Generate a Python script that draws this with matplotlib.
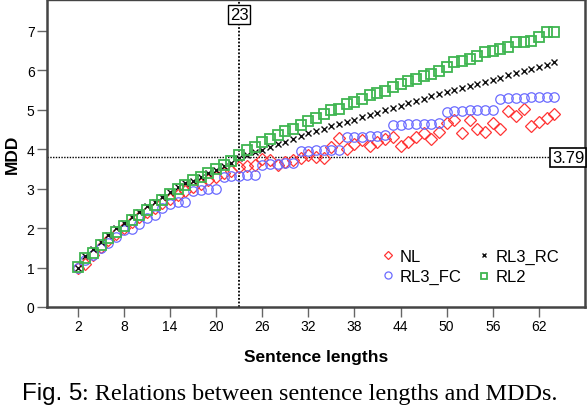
import matplotlib
matplotlib.use('Agg')
import matplotlib.pyplot as plt

# sentence lengths on the x axis
lengths = list(range(2, 65))

# MDD values
nl = [1.0, 1.1, 1.33, 1.52, 1.7, 1.86, 2.0, 2.15, 2.27, 2.4, 2.5, 2.63, 2.74, 2.85, 2.93,
      3.05, 3.12, 3.22, 3.3, 3.4, 3.45, 3.55, 3.58, 3.6, 3.76, 3.72, 3.6, 3.68, 3.72, 3.78,
      3.84, 3.8, 3.78, 4.05, 4.28, 4.0, 4.14, 4.22, 4.09, 4.18, 4.25, 4.3, 4.08, 4.18, 4.3,
      4.4, 4.26, 4.43, 4.66, 4.73, 4.41, 4.73, 4.52, 4.43, 4.66, 4.52, 4.96, 4.83, 5.02,
      4.58, 4.7, 4.79, 4.9]
rl3_fc = [1.0, 1.2, 1.33, 1.5, 1.62, 1.78, 1.95, 1.97, 2.1, 2.25, 2.33, 2.5, 2.62, 2.65,
          2.67, 2.95, 2.97, 2.98, 3.0, 3.3, 3.32, 3.33, 3.34, 3.35, 3.6, 3.62, 3.63, 3.64,
          3.66, 3.95, 3.96, 3.97, 3.97, 3.98, 3.99, 4.3, 4.31, 4.32, 4.33, 4.34, 4.35, 4.61,
          4.62, 4.63, 4.63, 4.64, 4.65, 4.66, 4.95, 4.96, 4.97, 4.98, 4.98, 4.99, 5.0, 5.28,
          5.29, 5.3, 5.3, 5.31, 5.31, 5.32, 5.33]
rl3_rc = [1.0, 1.3, 1.47, 1.65, 1.82, 1.99, 2.14, 2.28, 2.41, 2.55, 2.66, 2.78, 2.92, 3.03,
          3.14, 3.2, 3.3, 3.39, 3.48, 3.57, 3.66, 3.78, 3.86, 3.92, 3.98, 4.05, 4.12, 4.19,
          4.26, 4.33, 4.4, 4.46, 4.52, 4.58, 4.64, 4.7, 4.75, 4.81, 4.87, 4.92, 4.98, 5.04,
          5.1, 5.16, 5.22, 5.28, 5.34, 5.4, 5.45, 5.5, 5.55, 5.6, 5.66, 5.71, 5.76, 5.81,
          5.87, 5.92, 5.97, 6.02, 6.07, 6.14, 6.21]
rl2 = [1.02, 1.23, 1.38, 1.57, 1.74, 1.91, 2.06, 2.2, 2.33, 2.47, 2.58, 2.7, 2.86, 2.98,
       3.1, 3.21, 3.3, 3.4, 3.5, 3.61, 3.71, 3.86, 3.97, 4.05, 4.18, 4.25, 4.35, 4.45, 4.52,
       4.62, 4.72, 4.79, 4.89, 4.98, 5.02, 5.15, 5.19, 5.27, 5.36, 5.42, 5.48, 5.57, 5.65,
       5.73, 5.78, 5.86, 5.9, 5.99, 6.07, 6.2, 6.24, 6.28, 6.37, 6.45, 6.49, 6.53, 6.58,
       6.72, 6.72, 6.74, 6.83, 6.96, 6.96]

x_ticks = [2, 8, 14, 20, 26, 32, 38, 44, 50, 56, 62]
y_ticks = [0, 1, 2, 3, 4, 5, 6, 7]
ref_x = 23
ref_y = 3.79

plt.rcParams['font.family'] = ['Liberation Sans', 'DejaVu Sans']

fig = plt.figure(figsize=(5.88, 4.06), dpi=100)
ax = fig.add_axes([47 / 588, 98 / 406, 538 / 588, 307 / 406])

# reference lines first, markers above them
ax.axvline(ref_x, color='black', ls=(0, (1, 1)), lw=1.3, zorder=1)
ax.axhline(ref_y, color='black', ls=(0, (1, 1)), lw=1.0, zorder=1)

ax.plot(lengths, nl, ls='none', marker='D', ms=5.8, mfc='none', mec='#ff3434', mew=0.9, label='NL')
ax.plot(lengths, rl3_fc, ls='none', marker='o', ms=6.8, mfc='none', mec='#6b6bff', mew=0.9, label='RL3_FC')
ax.plot(lengths, rl3_rc, ls='none', marker='x', ms=3.8, mec='#111111', mew=1.0, label='RL3_RC')
ax.plot(lengths, rl2, ls='none', marker='s', ms=6.6, mfc='none', mec='#3fb551', mew=1.3, label='RL2')

ax.set_xlim(-2, 68)
ax.set_ylim(0, 7.78)
ax.set_xticks(x_ticks)
ax.set_yticks(y_ticks)
ax.tick_params(direction='out', length=7, width=1, color='#666666', labelsize=10, pad=2)

for s in ax.spines.values():
    s.set_color('#444444')
ax.spines['left'].set_linewidth(1.8)
ax.spines['bottom'].set_linewidth(1.8)
ax.spines['right'].set_linewidth(1.8)
ax.spines['top'].set_linewidth(1.0)

ax.set_xlabel('Sentence lengths', fontsize=12.5, fontweight='bold', labelpad=11)
ax.set_ylabel('MDD', fontsize=12.5, fontweight='bold', labelpad=5)

# value boxes on the reference lines
ax.text(ref_x, 7.42, '23', ha='center', va='center', fontsize=12, zorder=5,
        bbox=dict(boxstyle='square,pad=0.12', fc='white', ec='black', lw=1))
ax.text(67.9, ref_y, '3.79', ha='right', va='center', fontsize=12, zorder=5,
        bbox=dict(boxstyle='square,pad=0.12', fc='white', ec='black', lw=1.2))

ax.legend(loc='lower right', bbox_to_anchor=(0.978, 0.03), ncol=2, frameon=False,
          fontsize=12, handletextpad=0.25, columnspacing=0.9, labelspacing=0.3,
          handlelength=0.9, borderpad=0.3, markerscale=0.75)

# caption: "Fig. 5" sans, rest serif
t1 = fig.text(22 / 588, 1 - 400 / 406, 'Fig. 5', fontsize=17.4, va='baseline', ha='left',
              family=['Liberation Sans', 'DejaVu Sans'])
fig.canvas.draw()
bb = t1.get_window_extent()
fig.text(bb.x1 / fig.bbox.width, 1 - 400 / 406, ': Relations between sentence lengths and MDDs.',
         fontsize=17.4, va='baseline', ha='left', family=['Liberation Serif', 'DejaVu Serif'])

plt.savefig('out.png', dpi=100)
plt.close()
